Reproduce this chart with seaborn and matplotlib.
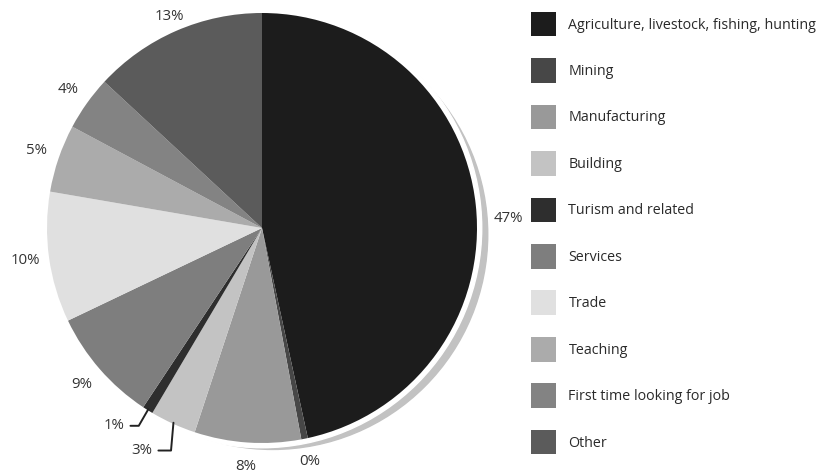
import matplotlib
matplotlib.use("Agg")
import matplotlib.pyplot as plt
from matplotlib.patches import Circle
import seaborn as sns
import numpy as np

# Employment by sector (percent of total)
categories = [
    "Agriculture, livestock, fishing, hunting",
    "Mining",
    "Manufacturing",
    "Building",
    "Turism and related",
    "Services",
    "Trade",
    "Teaching",
    "First time looking for job",
    "Other",
]
shares = [46.6, 0.49, 8.0, 3.45, 0.8, 8.6, 9.8, 5.1, 4.1, 13.1]
pct_labels = [f"{round(v)}%" for v in shares]

colors = ["#1c1c1c", "#474747", "#999999", "#c3c3c3", "#2e2e2e",
          "#7e7e7e", "#e0e0e0", "#ababab", "#838383", "#5b5b5b"]

sns.set_theme(style="white")
plt.rcParams["font.family"] = ["Open Sans", "DejaVu Sans"]

W, H, DPI = 828, 474, 100
fig = plt.figure(figsize=(W / DPI, H / DPI), dpi=DPI)
fig.patch.set_facecolor("white")

# Axes laid out in pixels: pie centre at (262, 228), radius 215 px
cx, cy, R = 262, 228, 215
ax_l, ax_r = 12, 512
ax = fig.add_axes([ax_l / W, 0, (ax_r - ax_l) / W, 1])
ax.set_axis_off()

# offset drop shadow and a thin white rim around the disc
ax.add_patch(Circle((0.05, -0.03), 1.0, color="#c2c2c2", zorder=0))
ax.add_patch(Circle((0, 0), 1.022, color="white", zorder=1))

wedges, _ = ax.pie(
    shares, colors=colors, startangle=90, counterclock=False,
    radius=1.0, wedgeprops=dict(linewidth=0),
)
for w in wedges:
    w.set_zorder(2)

# percentage labels around the rim
label_color = "#333333"
fs_lab = 10.8
line_kw = dict(arrowstyle="-", color="#222222", lw=1.4, shrinkA=2, shrinkB=0)
for i, (w, lab) in enumerate(zip(wedges, pct_labels)):
    mid = np.deg2rad((w.theta1 + w.theta2) / 2)
    dx, dy = np.cos(mid), np.sin(mid)
    tip = (0.995 * dx, 0.995 * dy)
    name = categories[i]
    if name == "Turism and related":
        ax.annotate(lab, xy=tip, xytext=(-0.64, -0.92), ha="right", va="center",
                    fontsize=fs_lab, color=label_color,
                    arrowprops=dict(connectionstyle="angle,angleA=0,angleB=60,rad=0",
                                    **line_kw))
    elif name == "Building":
        ax.annotate(lab, xy=tip, xytext=(-0.51, -1.035), ha="right", va="center",
                    fontsize=fs_lab, color=label_color,
                    arrowprops=dict(connectionstyle="angle,angleA=0,angleB=85,rad=0",
                                    **line_kw))
    elif name.startswith("Agriculture"):
        ax.text(1.145, 0.045, lab, ha="center", va="center",
                fontsize=fs_lab, color=label_color)
    else:
        r = 1.075 if name == "Other" else 1.11
        ax.text(r * dx, r * dy, lab, ha="center", va="center",
                fontsize=fs_lab, color=label_color)

ax.set_xlim((ax_l - cx) / R, (ax_r - cx) / R)
ax.set_ylim(-(H - cy) / R, cy / R)
ax.set_aspect("auto")

# legend with square swatches
leg = fig.legend(
    wedges, categories, loc="upper left",
    bbox_to_anchor=(525 / W, 1 - 6 / H), frameon=False,
    fontsize=10.3, handlelength=1.74, handleheight=2.28,
    labelspacing=1.52, handletextpad=0.9, borderaxespad=0,
)
for t in leg.get_texts():
    t.set_color("#2a2a2a")

fig.savefig("out.png", dpi=DPI, facecolor="white")
